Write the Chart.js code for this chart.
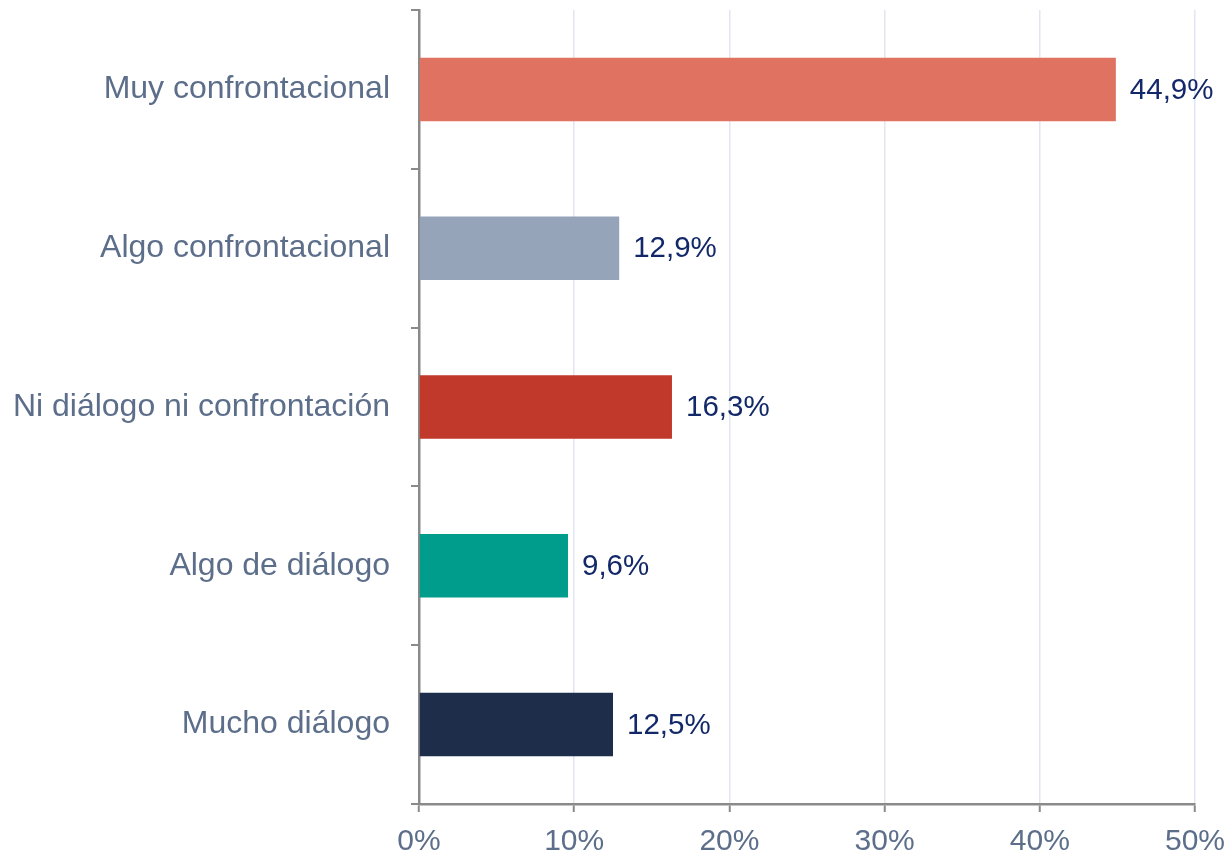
<!DOCTYPE html>
<html><head><meta charset="utf-8">
<script src="https://cdn.jsdelivr.net/npm/chart.js@4.4.1/dist/chart.umd.min.js"></script>
<style>html,body{margin:0;padding:0;background:#fff}#wrap{width:1227px;height:858px}</style>
</head><body><div id="wrap"><canvas id="c" width="1227" height="858"></canvas></div>
<script>
const categories = ["Muy confrontacional","Algo confrontacional","Ni diálogo ni confrontación","Algo de diálogo","Mucho diálogo"];
const values = [44.9, 12.9, 16.3, 9.6, 12.5];
const barColors = ["#e07262","#96a4b9","#c0392b","#009c8c","#1e2e4a"];
const xTicks = [0,10,20,30,40,50];

const labelPlugin = {
  id:'valLabels',
  afterDatasetsDraw(chart){
    const ctx = chart.ctx;
    const meta = chart.getDatasetMeta(0);
    ctx.save();
    ctx.font = '29.5px "Liberation Sans", Arial, sans-serif';
    ctx.fillStyle = '#122868';
    ctx.textAlign = 'left';
    ctx.textBaseline = 'middle';
    meta.data.forEach((bar,i)=>{
      ctx.fillText(values[i].toFixed(1).replace('.',',')+'%', bar.x+14, bar.y+1);
    });
    ctx.restore();
  }
};

new Chart(document.getElementById('c'),{
  type:'bar',
  data:{labels:categories,datasets:[{data:values,backgroundColor:barColors,barPercentage:0.4,categoryPercentage:1.0}]},
  options:{
    indexAxis:'y',responsive:false,animation:false,
    layout:{padding:{top:10,right:0,left:0,bottom:0}},
    plugins:{legend:{display:false},tooltip:{enabled:false}},
    scales:{
      x:{min:0,max:50,
        afterBuildTicks(s){s.ticks = xTicks.map(v=>({value:v}));},
        afterFit(s){s.height=54; s.paddingRight=32; s.paddingLeft=0;},
        ticks:{callback:v=>v+'%',color:'#5c6e8a',font:{size:30,family:'"Liberation Sans", Arial, sans-serif'},padding:12,maxRotation:0},
        grid:{color:'#e1e6f0',lineWidth:1.5,tickColor:'#8a8a8a',tickLength:8,tickWidth:2},
        border:{color:'#8a8a8a',width:2.5}
      },
      y:{
        afterFit(s){s.width=419; s.paddingTop=0; s.paddingBottom=0;},
        ticks:{color:'#5c6e8a',font:{size:32,family:'"Liberation Sans", Arial, sans-serif'},padding:21},
        grid:{drawOnChartArea:false,offset:true,color:'#8a8a8a',tickLength:8,lineWidth:2},
        border:{color:'#8a8a8a',width:2.5}
      }
    }
  },
  plugins:[labelPlugin]
});
</script></body></html>
